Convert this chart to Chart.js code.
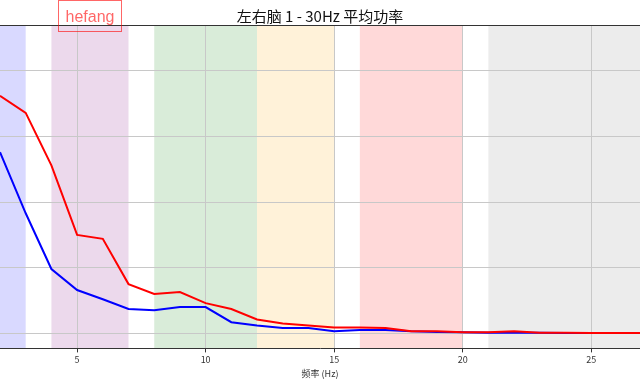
<!DOCTYPE html>
<html>
<head>
<meta charset="utf-8">
<script src="https://cdn.jsdelivr.net/npm/chart.js@4"></script>
<style>
  html, body { margin: 0; padding: 0; background: #fff; }
  #wrap { width: 640px; height: 384px; }
</style>
</head>
<body>
<div id="wrap"><canvas id="powerChart"></canvas></div>
<script>
// 频率 (Hz)
const freqs = [2, 3, 4, 5, 6, 7, 8, 9, 10, 11, 12, 13, 14, 15, 16, 17, 18, 19, 20, 21, 22, 23, 24, 25, 26, 27];
// 两条平均功率曲线
const redPower  = [3.62, 3.36, 2.56, 1.50, 1.44, 0.75, 0.60, 0.63, 0.46, 0.37, 0.21, 0.15, 0.12, 0.09, 0.09, 0.08, 0.03, 0.03, 0.015, 0.015, 0.03, 0.01, 0.01, 0.005, 0.005, 0.005];
const bluePower = [2.76, 1.83, 0.98, 0.66, 0.52, 0.37, 0.35, 0.40, 0.40, 0.17, 0.12, 0.08, 0.08, 0.03, 0.05, 0.05, 0.03, 0.02, 0.015, 0.01, 0.01, 0.01, 0.005, 0.005, 0.005, 0.005];
// 频段 [起, 止]
const bandNames  = ['delta', 'theta', 'alpha', 'smr', 'beta', 'gamma'];
const bandRanges = [[0, 3], [4, 7], [8, 12], [12, 15], [16, 20], [21, 31]];
const bandColors = ['rgba(0,0,255,0.15)', 'rgba(128,0,128,0.15)', 'rgba(0,128,0,0.15)',
                    'rgba(255,165,0,0.15)', 'rgba(255,0,0,0.15)', 'rgba(128,128,128,0.15)'];
const xTicks = [5, 10, 15, 20, 25];

const cjk = '"Noto Sans CJK SC", "DejaVu Sans", sans-serif';

// 背景频段
const bandsPlugin = {
  id: 'bands',
  beforeDraw(chart) {
    const { ctx, chartArea: a, scales: { x } } = chart;
    ctx.save();
    ctx.beginPath();
    ctx.rect(a.left, a.top, a.width, a.height);
    ctx.clip();
    bandRanges.forEach(([from, to], i) => {
      const x0 = x.getPixelForValue(from);
      const x1 = x.getPixelForValue(to);
      ctx.fillStyle = bandColors[i];
      ctx.fillRect(x0, a.top, x1 - x0, a.height);
    });
    ctx.restore();
  },
  afterDraw(chart) {
    const { ctx, chartArea: a } = chart;
    ctx.save();
    // 上边框
    ctx.strokeStyle = '#333';
    ctx.lineWidth = 1;
    ctx.beginPath();
    ctx.moveTo(a.left, a.top + 0.5);
    ctx.lineTo(a.right, a.top + 0.5);
    ctx.stroke();
    // 水印
    ctx.strokeStyle = 'rgba(255,0,0,0.6)';
    ctx.strokeRect(58.5, 0.5, 63, 31);
    ctx.fillStyle = 'rgba(255,0,0,0.6)';
    ctx.font = '16px "Liberation Sans", Arial, sans-serif';
    ctx.textAlign = 'center';
    ctx.textBaseline = 'alphabetic';
    ctx.fillText('hefang', 90, 22);
    ctx.restore();
  }
};

new Chart(document.getElementById('powerChart'), {
  type: 'line',
  data: {
    labels: freqs,
    datasets: [{
      label: 'red',
      data: freqs.map((f, i) => ({ x: f, y: redPower[i] })),
      borderColor: '#ff0000',
      borderWidth: 2,
      pointRadius: 0,
      tension: 0
    }, {
      label: 'blue',
      data: freqs.map((f, i) => ({ x: f, y: bluePower[i] })),
      borderColor: '#0000ff',
      borderWidth: 2,
      pointRadius: 0,
      tension: 0
    }]
  },
  options: {
    responsive: true,
    maintainAspectRatio: false,
    animation: false,
    layout: { padding: 0 },
    plugins: {
      legend: { display: false },
      tooltip: { enabled: false },
      title: {
        display: true,
        text: '左右脑 1 - 30Hz 平均功率',
        color: '#111',
        font: { family: cjk, size: 15, weight: 'normal' },
        padding: { top: 7, bottom: 0 }
      }
    },
    scales: {
      x: {
        type: 'linear',
        min: 2,
        max: 26.9,
        afterBuildTicks: s => { s.ticks = xTicks.map(v => ({ value: v })); },
        ticks: { color: '#333', font: { family: cjk, size: 9 }, padding: 2, maxRotation: 0 },
        grid: { color: '#c8c8c8', tickColor: '#333', tickLength: 4 },
        border: { display: true, color: '#333', width: 1 },
        title: {
          display: true,
          text: '频率 (Hz)',
          color: '#333',
          font: { family: cjk, size: 9 },
          padding: { top: 1, bottom: 5 }
        }
      },
      y: {
        min: -0.23,
        max: 4.7,
        ticks: { display: false, stepSize: 1, includeBounds: false },
        grid: { color: '#c8c8c8', drawTicks: false },
        border: { display: false }
      }
    }
  },
  plugins: [bandsPlugin]
});
</script>
</body>
</html>
